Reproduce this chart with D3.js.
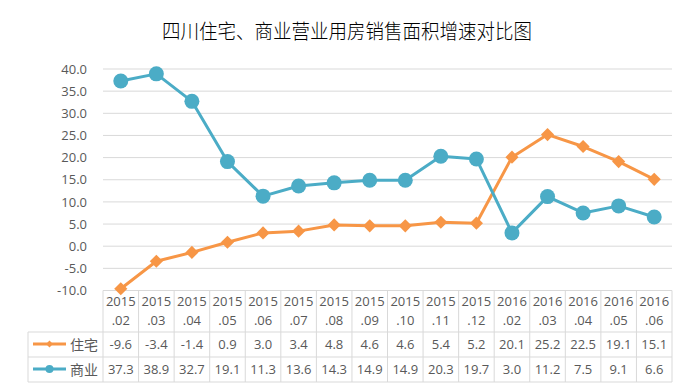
<!DOCTYPE html>
<html><head><meta charset="utf-8">
<script src="https://cdn.jsdelivr.net/npm/d3@7"></script>
<style>body{margin:0;background:#fff;}svg{display:block;}</style>
</head><body>
<script>
const title = "四川住宅、商业营业用房销售面积增速对比图";
const years = ["2015","2015","2015","2015","2015","2015","2015","2015","2015","2015","2015","2016","2016","2016","2016","2016"];
const months = [".02",".03",".04",".05",".06",".07",".08",".09",".10",".11",".12",".02",".03",".04",".05",".06"];
const categories = years.map((y,i)=>y+months[i]);
const residential = [-9.6,-3.4,-1.4,0.9,3.0,3.4,4.8,4.6,4.6,5.4,5.2,20.1,25.2,22.5,19.1,15.1];
const commercial = [37.3,38.9,32.7,19.1,11.3,13.6,14.3,14.9,14.9,20.3,19.7,3.0,11.2,7.5,9.1,6.6];
const yTicks = [-10,-5,0,5,10,15,20,25,30,35,40];
const seriesNames = ["住宅","商业"];

const W=693,H=391;
const textColor="#595959", gridColor="#D9D9D9";
const colors=["#F79646","#4BACC6"];
const font="'Open Sans', 'Noto Sans CJK SC', sans-serif";
const fmt=d3.formatLocale({decimal:".",thousands:",",grouping:[3],currency:["",""],minus:"-"}).format(".1f");

const svg=d3.select("body").append("svg").attr("width",W).attr("height",H);

svg.append("text").attr("transform","translate(347,39) scale(1,1.08)").attr("text-anchor","middle")
  .attr("font-family","'Noto Sans CJK SC', sans-serif").attr("font-weight",300).attr("font-size",18.5).attr("fill","#000")
  .text(title);

const x=d3.scaleBand().domain(categories).range([103,672]);
const y=d3.scaleLinear().domain([-10,40]).range([290.5,69]);

svg.append("g").selectAll("line").data(yTicks).join("line")
  .attr("x1",103).attr("x2",672).attr("y1",d=>y(d)).attr("y2",d=>y(d))
  .attr("stroke",gridColor).attr("stroke-width",1);

const yAxis=d3.axisLeft(y).tickValues(yTicks).tickFormat(fmt).tickSize(0).tickPadding(0);
const ya=svg.append("g").attr("transform","translate(87,0)").call(yAxis);
ya.select(".domain").remove();
ya.selectAll("text").attr("font-family",font).attr("font-size",13).attr("fill",textColor);

const tTop=y(-10), hdrBottom=332, row1Bottom=357, tBottom=382, legLeft=28;
const tg=svg.append("g").attr("stroke",gridColor).attr("stroke-width",1);
const bounds=categories.map(c=>x(c)).concat([672]);
tg.selectAll("line.v").data(bounds).join("line")
  .attr("x1",d=>d).attr("x2",d=>d).attr("y1",tTop).attr("y2",tBottom);
tg.append("line").attr("x1",legLeft).attr("x2",legLeft).attr("y1",hdrBottom).attr("y2",tBottom);
[hdrBottom,row1Bottom,tBottom].forEach(yy=>{
  tg.append("line").attr("x1",legLeft).attr("x2",672).attr("y1",yy).attr("y2",yy);
});

const xAxisG=svg.append("g");
xAxisG.selectAll("text.yr").data(categories).join("text")
  .attr("x",d=>x(d)+x.bandwidth()/2).attr("y",306).attr("text-anchor","middle")
  .attr("font-family",font).attr("font-size",13).attr("fill",textColor)
  .text((d,i)=>years[i]);
xAxisG.selectAll("text.mo").data(categories).join("text")
  .attr("x",d=>x(d)+x.bandwidth()/2).attr("y",325).attr("text-anchor","middle")
  .attr("font-family",font).attr("font-size",13).attr("fill",textColor)
  .text((d,i)=>months[i]);

const rowsY=[349,374];
[residential,commercial].forEach((arr,si)=>{
  svg.append("g").selectAll("text").data(arr).join("text")
    .attr("x",(d,i)=>x(categories[i])+x.bandwidth()/2).attr("y",rowsY[si]).attr("text-anchor","middle")
    .attr("font-family",font).attr("font-size",13).attr("fill",textColor)
    .text(d=>fmt(d));
  const ly=rowsY[si]-5;
  const lg=svg.append("g");
  lg.append("line").attr("x1",33).attr("x2",66).attr("y1",ly).attr("y2",ly).attr("stroke",colors[si]).attr("stroke-width",3);
  if(si===0){
    lg.append("path").attr("d",d3.symbol(d3.symbolDiamond2,30)()).attr("transform",`translate(49.5,${ly})`).attr("fill",colors[si]);
  } else {
    lg.append("circle").attr("cx",49.5).attr("cy",ly).attr("r",4).attr("fill",colors[si]);
  }
  lg.append("text").attr("x",70).attr("y",rowsY[si]+1).attr("font-family","'Noto Sans CJK SC', sans-serif")
    .attr("font-size",14).attr("fill",textColor).text(seriesNames[si]);
});

const line=d3.line().x((d,i)=>x(categories[i])+x.bandwidth()/2).y(d=>y(d));
svg.append("path").datum(residential).attr("d",line).attr("fill","none").attr("stroke",colors[0]).attr("stroke-width",3).attr("stroke-linejoin","round");
svg.append("path").datum(commercial).attr("d",line).attr("fill","none").attr("stroke",colors[1]).attr("stroke-width",3).attr("stroke-linejoin","round");

svg.append("g").selectAll("path").data(residential).join("path")
  .attr("d",d3.symbol(d3.symbolDiamond2,110)())
  .attr("transform",(d,i)=>`translate(${x(categories[i])+x.bandwidth()/2},${y(d)})`)
  .attr("fill",colors[0]);
svg.append("g").selectAll("circle").data(commercial).join("circle")
  .attr("cx",(d,i)=>x(categories[i])+x.bandwidth()/2).attr("cy",d=>y(d)).attr("r",7.5)
  .attr("fill",colors[1]);
</script>
</body></html>
